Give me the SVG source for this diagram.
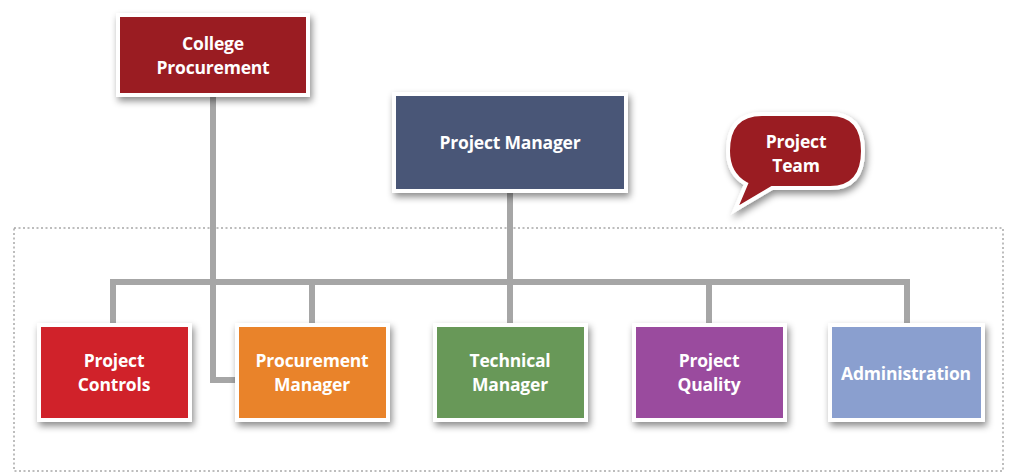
<svg xmlns="http://www.w3.org/2000/svg" width="1011" height="474" viewBox="0 0 1011 474">
<defs>
<filter id="sh" x="-20%" y="-20%" width="140%" height="150%">
<feDropShadow dx="2" dy="4" stdDeviation="3.5" flood-color="#000" flood-opacity="0.45"/>
</filter>
</defs>
<style>
.box{stroke:#fff;stroke-width:4;filter:url(#sh)}
.t{font-family:"Open Sans","Noto Sans","Liberation Sans",sans-serif;font-weight:bold;font-size:17.5px;fill:#fff;text-anchor:middle;letter-spacing:-0.2px}
.c{fill:none;stroke:#a6a6a6;stroke-width:6}
</style>
<rect width="1011" height="474" fill="#fff"/>
<rect x="14" y="228" width="989" height="243" fill="none" stroke="#a8a8a8" stroke-width="1.5" stroke-dasharray="2 2.5"/>
<g id="connectors">
<path class="c" d="M213 97 V380 H237"/>
<path class="c" d="M510 193 V325"/>
<path class="c" d="M113 325 V282 H907 V325"/>
<path class="c" d="M312 282 V325"/>
<path class="c" d="M709 282 V325"/>
</g>
<g id="college-procurement">
<rect class="box" x="118" y="15" width="190" height="80" fill="#9a1c20"/>
<text class="t" x="213" y="50">College</text>
<text class="t" x="213" y="74">Procurement</text>
</g>
<g id="project-manager">
<rect class="box" x="394" y="94" width="232" height="97" fill="#4a5677"/>
<text class="t" x="510" y="149">Project Manager</text>
</g>
<g id="project-team">
<path class="box" d="M762 114 H830 Q863 114 863 151 Q863 188 830 188 H772 L735 210 L746 184 Q728 174 728 151 Q728 114 762 114 Z" fill="#9a1c20"/>
<text class="t" x="796" y="148">Project</text>
<text class="t" x="796" y="172">Team</text>
</g>
<g id="project-controls">
<rect class="box" x="39" y="325" width="151" height="95" fill="#d0222b"/>
<text class="t" x="114" y="367">Project</text>
<text class="t" x="114" y="391">Controls</text>
</g>
<g id="procurement-manager">
<rect class="box" x="237" y="325" width="151" height="95" fill="#e9832b"/>
<text class="t" x="312" y="367">Procurement</text>
<text class="t" x="312" y="391">Manager</text>
</g>
<g id="technical-manager">
<rect class="box" x="435" y="325" width="151" height="95" fill="#689858"/>
<text class="t" x="510" y="367">Technical</text>
<text class="t" x="510" y="391">Manager</text>
</g>
<g id="project-quality">
<rect class="box" x="634" y="325" width="151" height="95" fill="#9a4b9e"/>
<text class="t" x="709" y="367">Project</text>
<text class="t" x="709" y="391">Quality</text>
</g>
<g id="administration">
<rect class="box" x="830" y="325" width="153" height="95" fill="#8a9fcf"/>
<text class="t" x="906" y="380">Administration</text>
</g>
</svg>
